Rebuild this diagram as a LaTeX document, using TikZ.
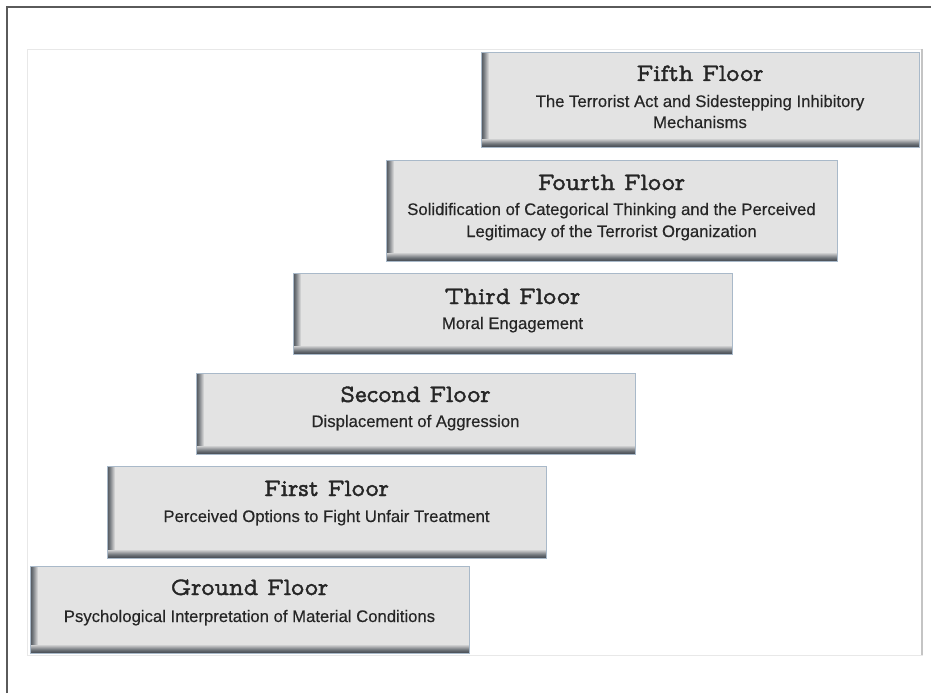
\documentclass[tikz,border=0pt]{standalone}
\usepackage{fontspec}
\newfontfamily\subfont{Liberation Sans}[FakeBold=0.4]
\newfontfamily\titlefont{Latin Modern Mono Prop}[FakeBold=1.6]
\definecolor{boxfill}{HTML}{E3E3E3}
\definecolor{boxedge}{HTML}{A9B9C9}
\definecolor{shadowdark}{HTML}{4F555C}
\definecolor{framegray}{HTML}{5A5A5A}
\definecolor{panelgray}{HTML}{E8E8E8}
\definecolor{paneledge}{HTML}{C4C4C4}
\definecolor{inkcol}{HTML}{262626}
\begin{document}
\begin{tikzpicture}[x=1pt,y=-1pt,
  floorbox/.style={draw=boxedge, line width=0.8pt, fill=boxfill, inner sep=0pt,
    path picture={
      \foreach \i/\p in {0/100,1/92,2/82,3/70,4/56,5/42,6/28,7/14} {
        \fill[shadowdark!\p!boxfill]
          ([xshift={\i*1.05pt}]path picture bounding box.north west) rectangle
          ([xshift={(\i+1)*1.05pt}]path picture bounding box.south west);
      }
      \foreach \i/\p in {0/100,1/92,2/82,3/70,4/56,5/42,6/28,7/14} {
        \fill[shadowdark!\p!boxfill]
          ([yshift={\i*0.95pt}]path picture bounding box.south west) rectangle
          ([yshift={(\i+1)*0.95pt}]path picture bounding box.south east);
      }
    }},
  titletext/.style={anchor=base, inner sep=0pt, text=inkcol, font=\titlefont\fontsize{25}{25}\selectfont},
  subtext/.style={anchor=base, inner sep=0pt, text=inkcol, font=\subfont\fontsize{16.7}{21}\selectfont}
]
\useasboundingbox (0,0) rectangle (931,693);
\fill[white] (0,0) rectangle (931,693);
% outer frame
\draw[framegray, line width=2pt] (7,693) -- (7,7) -- (931,7);
% panel
\draw[panelgray, line width=0.8pt] (27,49) rectangle (922,655);
\draw[paneledge, line width=1.2pt] (922,49) -- (922,655);

% boxes
\node[floorbox, minimum width=438pt, minimum height=95pt]  (f5) at (700,99.5) {};
\node[floorbox, minimum width=451pt, minimum height=101pt] (f4) at (611.5,210.5) {};
\node[floorbox, minimum width=439pt, minimum height=81pt]  (f3) at (512.5,313.5) {};
\node[floorbox, minimum width=439pt, minimum height=81pt]  (f2) at (415.5,413.5) {};
\node[floorbox, minimum width=439pt, minimum height=92pt]  (f1) at (326.5,512) {};
\node[floorbox, minimum width=439pt, minimum height=87pt]  (f0) at (249.5,609.5) {};

% texts
\node[titletext] (t5) at (700,81) {Fifth Floor};
\node[subtext] (s5a) at (700,107) {The Terrorist Act and Sidestepping Inhibitory};
\node[subtext] (s5b) at (700,128) {Mechanisms};

\node[titletext] (t4) at (611.5,190) {Fourth Floor};
\node[subtext] (s4a) at (611.5,215) {Solidification of Categorical Thinking and the Perceived};
\node[subtext] (s4b) at (611.5,237) {Legitimacy of the Terrorist Organization};

\node[titletext] (t3) at (512.5,304) {Third Floor};
\node[subtext] (s3) at (512.5,329) {Moral Engagement};

\node[titletext] (t2) at (415.5,402) {Second Floor};
\node[subtext] (s2) at (415.5,427) {Displacement of Aggression};

\node[titletext] (t1) at (326.5,496) {First Floor};
\node[subtext] (s1) at (326.5,522) {Perceived Options to Fight Unfair Treatment};

\node[titletext] (t0) at (249.5,595) {Ground Floor};
\node[subtext] (s0) at (249.5,622) {Psychological Interpretation of Material Conditions};
\end{tikzpicture}
\end{document}
